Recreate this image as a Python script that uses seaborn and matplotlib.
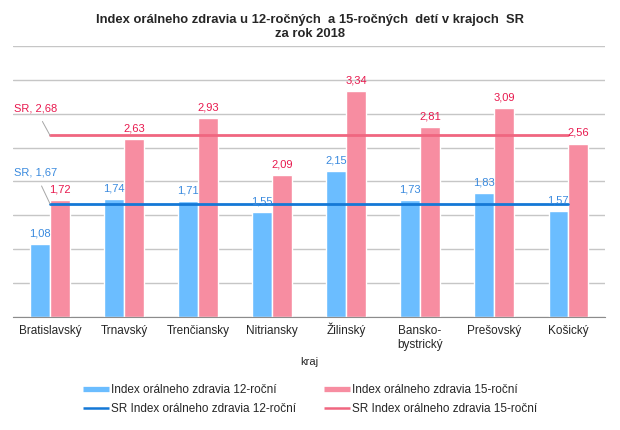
import pandas as pd
import matplotlib
matplotlib.use("Agg")
import matplotlib.pyplot as plt
import seaborn as sns
from matplotlib.lines import Line2D
from matplotlib.transforms import ScaledTranslation

# === Data ===
kraje = ["Bratislavský", "Trnavský", "Trenčiansky", "Nitriansky",
         "Žilinský", "Bansko-\nbystrický", "Prešovský", "Košický"]
index_12 = [1.08, 1.74, 1.71, 1.55, 2.15, 1.73, 1.83, 1.57]
index_15 = [1.72, 2.63, 2.93, 2.09, 3.34, 2.81, 3.09, 2.56]
sr_12 = 1.67
sr_15 = 2.68
series_names = ["Index orálneho zdravia 12-roční", "Index orálneho zdravia 15-roční"]
line_names = ["SR Index orálneho zdravia 12-roční", "SR Index orálneho zdravia 15-roční"]

BLUE_BAR = "#6bbdff"
PINK_BAR = "#f78da1"
BLUE_LINE = "#1478d6"
PINK_LINE = "#f06680"
BLUE_TXT = "#3a8ade"
PINK_TXT = "#e8194e"

df = pd.DataFrame({
    "kraj": kraje * 2,
    "hodnota": index_12 + index_15,
    "serie": [series_names[0]] * len(kraje) + [series_names[1]] * len(kraje),
})

sns.set_style("white")
plt.rcParams["font.family"] = ["Liberation Sans", "DejaVu Sans"]

fig = plt.figure(figsize=(6.2, 4.3), dpi=100)
ax = fig.add_axes([0.021, 0.263, 0.955, 0.630])

sns.barplot(data=df, x="kraj", y="hodnota", hue="serie",
            palette=[BLUE_BAR, PINK_BAR], width=0.53, saturation=1,
            legend=False, ax=ax, zorder=2)

# SR average lines from first to last category
n = len(kraje)
ax.plot([0, n - 1], [sr_12, sr_12], color=BLUE_LINE, lw=2, zorder=3)
ax.plot([0, n - 1], [sr_15, sr_15], color=PINK_LINE, lw=2, zorder=3)

# data labels
fmt = lambda v: f"{v:.2f}".replace(".", ",")
for cont, col in zip(ax.containers, [BLUE_TXT, PINK_TXT]):
    ax.bar_label(cont, labels=[fmt(b.get_height()) for b in cont],
                 padding=4, fontsize=8, color=col)

# SR labels with leader lines
ax.annotate(f"SR, {fmt(sr_15)}", xy=(0, sr_15), xytext=(-0.2, sr_15 + 0.4),
            fontsize=8, color=PINK_TXT, ha="center", va="center",
            arrowprops=dict(arrowstyle="-", color="#a6a6a6", lw=0.7,
                            shrinkA=4, shrinkB=0))
ax.annotate(f"SR, {fmt(sr_12)}", xy=(0, sr_12), xytext=(-0.2, sr_12 + 0.46),
            fontsize=8, color=BLUE_TXT, ha="center", va="center",
            arrowprops=dict(arrowstyle="-", color="#a6a6a6", lw=0.7,
                            shrinkA=4, shrinkB=0))

ax.set_ylim(0, 4)
ax.set_yticks([i * 0.5 for i in range(9)])
ax.set_yticklabels([])
ax.tick_params(axis="y", length=0)
ax.tick_params(axis="x", length=0, labelsize=8.5, pad=6)
# the caron on Ž makes the label box taller, nudge it back in line
for lbl in ax.get_xticklabels():
    if lbl.get_text().startswith("Ž"):
        lbl.set_transform(lbl.get_transform()
                          + ScaledTranslation(0, 1.8 / 72, fig.dpi_scale_trans))
ax.yaxis.grid(True, color="#c6c6c6", lw=1)
ax.set_axisbelow(True)
ax.set_xlim(-0.5, n - 0.5)
for s in ["left", "right", "top"]:
    ax.spines[s].set_visible(False)
ax.spines["bottom"].set_color("#8c8c8c")
ax.set_xlabel("kraj", fontsize=8)
ax.set_ylabel("")

fig.suptitle("Index orálneho zdravia u 12-ročných  a 15-ročných  detí v krajoch  SR\nza rok 2018",
             x=0.5, y=0.968, fontsize=9.4, fontweight="bold", linespacing=1.2)

handles = [
    Line2D([], [], color=BLUE_BAR, lw=3.8, solid_capstyle="butt"),
    Line2D([], [], color=BLUE_LINE, lw=1.8, solid_capstyle="butt"),
    Line2D([], [], color=PINK_BAR, lw=3.8, solid_capstyle="butt"),
    Line2D([], [], color=PINK_LINE, lw=1.8, solid_capstyle="butt"),
]
labels = [series_names[0], line_names[0], series_names[1], line_names[1]]
fig.legend(handles, labels, ncol=2, loc="center", bbox_to_anchor=(0.5, 0.071),
           frameon=False, fontsize=8.5, handlelength=2.2, handletextpad=0.17,
           columnspacing=2.4, labelspacing=0.6)

fig.savefig("out.png", dpi=100)
